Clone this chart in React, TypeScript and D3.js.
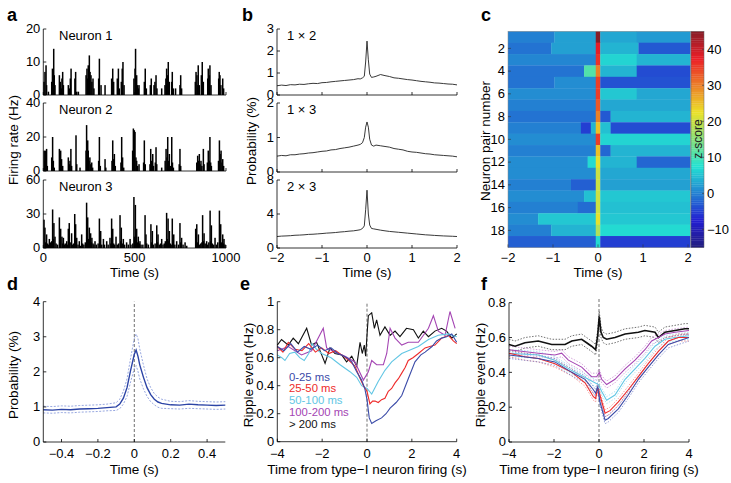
import React from 'react';
import * as d3 from 'd3';

const FONT = '"Liberation Sans", Arial, Helvetica, sans-serif';

// ---------- Panel a: firing rate (time s, rate Hz) ----------
const neuron1Bars: [number, number][] = [[4,4],[9,7],[15,9],[18,3],[28,1],[46,4],[50,8],[53,6],[57,14],[60,6],[64,3],[88,6],[93,4],[99,2],[102,5],[106,7],[110,3],[137,3],[142,2],[148,5],[152,8],[173,5],[177,7],[183,1],[192,1],[234,6],[239,8],[243,5],[246,9],[249,6],[252,12],[256,7],[261,6],[266,4],[272,5],[277,2],[303,5],[307,11],[316,3],[338,3],[374,5],[380,8],[385,4],[405,5],[411,8],[416,2],[427,4],[432,8],[436,10],[442,3],[496,5],[502,8],[505,14],[508,5],[511,6],[516,3],[520,2],[524,3],[553,4],[558,8],[564,2],[586,3],[591,5],[606,3],[611,4],[617,6],[622,2],[648,2],[666,3],[671,5],[675,8],[680,6],[684,10],[690,4],[703,4],[706,7],[712,2],[724,2],[748,3],[752,6],[757,2],[832,4],[836,7],[841,6],[845,3],[848,9],[854,3],[865,6],[870,10],[876,4],[900,5],[903,8],[909,6],[912,9],[918,3],[960,5],[963,7],[967,6],[972,3],[982,5],[987,2]];
const neuron2Bars: [number, number][] = [[5,12],[9,6],[13,12],[18,13],[22,3],[46,8],[51,20],[55,6],[60,2],[88,13],[92,5],[95,12],[100,7],[106,3],[137,8],[142,4],[146,6],[151,13],[155,3],[179,21],[183,4],[201,2],[234,12],[237,27],[243,18],[246,12],[250,6],[255,8],[260,4],[265,5],[270,2],[303,6],[307,20],[312,3],[338,7],[342,2],[376,6],[380,18],[385,7],[389,10],[394,3],[425,5],[429,20],[434,8],[440,2],[489,12],[493,25],[498,24],[502,23],[507,8],[511,6],[516,3],[524,4],[549,5],[553,18],[558,4],[584,4],[588,13],[593,6],[599,10],[603,3],[613,5],[617,14],[621,4],[648,2],[667,6],[672,13],[677,8],[681,20],[686,6],[690,10],[695,3],[703,20],[707,5],[712,2],[744,4],[748,13],[752,3],[840,5],[845,9],[850,6],[854,10],[858,4],[863,6],[868,3],[876,13],[880,4],[898,5],[903,12],[908,6],[912,20],[916,5],[920,3],[959,6],[964,18],[968,10],[973,12],[978,5],[982,7],[987,3]];
const neuron3Bars: [number, number][] = [[4,25],[9,18],[13,5],[18,12],[23,4],[28,3],[33,8],[40,5],[46,6],[51,34],[55,8],[58,22],[64,10],[70,4],[78,3],[88,27],[92,6],[95,17],[102,10],[106,4],[110,9],[115,3],[120,4],[128,6],[133,3],[137,17],[142,22],[147,5],[155,13],[160,3],[166,4],[172,30],[177,21],[183,9],[190,3],[197,6],[203,2],[210,12],[215,4],[222,3],[230,5],[237,40],[240,12],[243,27],[248,8],[252,18],[256,6],[259,13],[263,5],[266,9],[272,4],[277,3],[283,6],[290,3],[300,4],[307,26],[310,6],[314,15],[320,3],[329,8],[335,3],[347,6],[355,3],[365,9],[370,4],[374,26],[377,5],[380,17],[385,4],[390,3],[398,10],[405,3],[412,4],[420,29],[424,6],[427,18],[432,4],[438,8],[445,3],[456,5],[465,3],[475,8],[480,3],[490,4],[496,45],[500,10],[504,38],[508,6],[511,17],[516,5],[520,10],[525,4],[529,6],[535,3],[545,3],[557,29],[562,12],[566,4],[575,3],[589,21],[593,5],[597,15],[602,3],[612,4],[621,20],[625,5],[628,12],[635,3],[642,4],[648,8],[655,3],[662,4],[668,6],[675,31],[679,8],[683,26],[686,6],[690,15],[695,4],[700,3],[706,26],[710,5],[714,12],[720,3],[730,6],[740,3],[748,22],[752,5],[757,9],[765,3],[776,5],[785,2],[834,17],[837,6],[840,21],[845,5],[849,12],[855,3],[862,4],[868,5],[872,29],[876,6],[880,13],[886,4],[894,6],[900,3],[906,5],[913,33],[916,6],[920,20],[925,4],[932,3],[940,9],[948,3],[955,5],[964,33],[967,6],[971,21],[976,5],[982,12],[986,4],[989,8],[995,3]];
const neuronNames = ['Neuron 1', 'Neuron 2', 'Neuron 3'];
const neuronMax = [20, 40, 60];
const neuronTicks = [[0, 10, 20], [0, 20, 40], [0, 30, 60]];
const timeTicksA = [0, 500, 1000];

// ---------- Panel b: cross-correlograms ----------
const ccgTime = [-2,-1.9,-1.8,-1.7,-1.6,-1.5,-1.4,-1.3,-1.2,-1.1,-1.0,-0.9,-0.8,-0.7,-0.6,-0.5,-0.4,-0.3,-0.2,-0.15,-0.1,-0.06,-0.03,0,0.03,0.06,0.1,0.15,0.2,0.3,0.4,0.5,0.6,0.7,0.8,0.9,1.0,1.1,1.2,1.3,1.4,1.5,1.6,1.7,1.8,1.9,2.0];
const ccg12 = [0.42,0.45,0.43,0.47,0.46,0.49,0.48,0.51,0.53,0.52,0.56,0.57,0.6,0.62,0.64,0.66,0.68,0.7,0.74,0.73,0.78,0.85,1.5,2.45,1.6,0.95,0.8,0.82,0.85,0.93,0.88,0.84,0.78,0.76,0.73,0.7,0.68,0.65,0.62,0.6,0.58,0.55,0.54,0.52,0.5,0.49,0.46];
const ccg13 = [0.46,0.48,0.47,0.5,0.5,0.52,0.53,0.55,0.56,0.58,0.6,0.61,0.64,0.65,0.68,0.7,0.72,0.75,0.78,0.8,0.85,1.0,1.3,1.45,1.3,0.95,0.78,0.75,0.78,0.76,0.74,0.72,0.68,0.66,0.64,0.6,0.58,0.57,0.55,0.53,0.52,0.5,0.49,0.48,0.47,0.46,0.44];
const ccg23 = [1.35,1.4,1.42,1.45,1.5,1.52,1.55,1.6,1.62,1.66,1.7,1.75,1.78,1.82,1.88,1.92,1.98,2.02,2.1,2.15,2.3,2.6,4.5,6.8,4.0,2.7,2.3,2.25,2.2,2.1,2.02,1.95,1.9,1.85,1.8,1.75,1.7,1.65,1.6,1.55,1.52,1.48,1.45,1.42,1.4,1.38,1.35];
const ccgNames = ['1 \u00d7 2', '1 \u00d7 3', '2 \u00d7 3'];
const ccgMax = [3, 2, 8];
const ccgTicks = [[0, 1, 2, 3], [0, 1, 2], [0, 4, 8]];
const timeTicksB = [-2, -1, 0, 1, 2];

// ---------- Panel c: z-score heat map, rows of [t0, t1, z] ----------
const heatRows: [number, number, number][][] = [
  [[-2,-0.97,0],[-0.97,-0.05,2.5],[-0.05,0.05,45],[0.05,0.86,3],[0.86,2.05,2]],
  [[-2,-1.04,-1],[-1.04,-0.05,2.5],[-0.05,0.05,38],[0.05,0.9,4],[0.9,2.05,-3]],
  [[-2,-0.05,0.5],[-0.05,0.05,36],[0.05,0.86,6.5],[0.86,2.05,4]],
  [[-2,-0.31,-1],[-0.31,-0.05,11],[-0.05,0.05,30],[0.05,0.86,4],[0.86,2.05,-4]],
  [[-2,-0.97,-1],[-0.97,-0.05,1],[-0.05,0.05,35],[0.05,2.05,-3.5]],
  [[-2,-0.05,1],[-0.05,0.05,35],[0.05,0.86,5.5],[0.86,2.05,3]],
  [[-2,-0.05,0],[-0.05,0.05,33],[0.05,2.05,3]],
  [[-2,-0.05,-1],[-0.05,0.05,30],[0.05,0.28,-3],[0.28,2.05,4]],
  [[-2,-0.38,0],[-0.38,-0.16,-5],[-0.16,-0.05,4],[-0.05,0.05,25],[0.05,0.28,5],[0.28,2.05,-4]],
  [[-2,-0.05,1],[-0.05,0.05,35],[0.05,2.05,6.5]],
  [[-2,-0.05,0],[-0.05,0.05,25],[0.05,0.28,-2],[0.28,2.05,4]],
  [[-2,-0.23,1],[-0.23,-0.05,7],[-0.05,0.05,22],[0.05,0.86,4],[0.86,2.05,-2]],
  [[-2,-0.05,1],[-0.05,0.05,20],[0.05,2.05,3]],
  [[-2,-0.6,0],[-0.6,-0.05,-2.5],[-0.05,0.05,20],[0.05,2.05,2.5]],
  [[-2,-0.31,1],[-0.31,-0.05,5],[-0.05,0.05,20],[0.05,2.05,5.5]],
  [[-2,-0.45,0],[-0.45,-0.05,-1.5],[-0.05,0.05,20],[0.05,2.05,5]],
  [[-2,-1.33,1],[-1.33,-0.05,5.5],[-0.05,0.05,22],[0.05,2.05,5.5]],
  [[-2,-1.04,0],[-1.04,-0.05,4],[-0.05,0.05,18],[0.05,2.05,7]],
  [[-2,-0.05,-2.5],[-0.05,0.05,7],[0.05,2.05,-5]],
];
const rowTicks = [2, 4, 6, 8, 10, 12, 14, 16, 18];
const zDomain = [-15, 45];
const zTicks = [-10, 0, 10, 20, 30, 40];

// ---------- Panel d: population CCG ----------
const dTime = [-0.5,-0.45,-0.4,-0.35,-0.3,-0.25,-0.2,-0.15,-0.1,-0.08,-0.06,-0.04,-0.02,0,0.01,0.02,0.03,0.05,0.07,0.09,0.11,0.13,0.15,0.2,0.25,0.3,0.35,0.4,0.45,0.5];
const dMean = [0.92,0.91,0.93,0.92,0.94,0.95,0.96,0.98,1.0,1.08,1.25,1.55,2.05,2.5,2.62,2.45,2.2,1.85,1.55,1.35,1.22,1.14,1.1,1.06,1.05,1.08,1.06,1.05,1.04,1.05];
const dUpper = [1.02,1.01,1.03,1.02,1.04,1.05,1.06,1.08,1.12,1.22,1.45,1.8,2.4,2.95,3.08,2.95,2.65,2.2,1.8,1.55,1.38,1.28,1.22,1.16,1.15,1.18,1.16,1.15,1.14,1.15];
const dLower = [0.83,0.82,0.84,0.83,0.85,0.86,0.87,0.89,0.9,0.95,1.08,1.3,1.72,2.1,2.18,2.02,1.8,1.52,1.3,1.15,1.06,0.99,0.96,0.95,0.94,0.96,0.95,0.94,0.93,0.94];
const dTicksX = [-0.4, -0.2, 0, 0.2, 0.4];
const dTicksY = [0, 1, 2, 3, 4];

// ---------- Panel e: ripple rate by ISI group ----------
const eLegend = ['0-25 ms', '25-50 ms', '50-100 ms', '100-200 ms', '> 200 ms'];
const eColors = ['#3b4ba8', '#ee2a2a', '#62c6e4', '#a445b3', '#111111'];
const eBlueT = [-4,-3.7,-3.4,-3.1,-2.8,-2.5,-2.2,-1.9,-1.6,-1.3,-1.13,-0.9,-0.68,-0.46,-0.24,-0.1,0,0.1,0.21,0.4,0.65,0.85,1.03,1.3,1.55,1.84,2.14,2.4,2.59,2.9,3.1,3.33,3.55,3.78,4];
const eBlueV = [0.68,0.65,0.7,0.64,0.68,0.66,0.69,0.65,0.67,0.63,0.62,0.6,0.57,0.5,0.44,0.38,0.3,0.17,0.13,0.15,0.17,0.2,0.24,0.28,0.33,0.45,0.57,0.62,0.64,0.68,0.72,0.74,0.75,0.77,0.71];
const eRedT = [-4,-3.75,-3.51,-3.2,-2.9,-2.6,-2.3,-2.02,-1.7,-1.4,-1.13,-0.8,-0.54,-0.3,-0.16,0,0.13,0.25,0.36,0.5,0.65,0.8,0.95,1.1,1.25,1.4,1.55,1.7,1.84,2.05,2.29,2.59,2.8,3.03,3.33,3.63,3.85,4];
const eRedV = [0.68,0.64,0.71,0.66,0.65,0.7,0.64,0.67,0.63,0.65,0.62,0.58,0.54,0.45,0.4,0.36,0.27,0.29,0.29,0.28,0.3,0.31,0.36,0.38,0.42,0.45,0.49,0.53,0.58,0.6,0.63,0.67,0.68,0.69,0.74,0.76,0.72,0.7];
const eCyanT = [-4,-3.8,-3.66,-3.45,-3.22,-3.0,-2.8,-2.6,-2.45,-2.25,-2.02,-1.6,-1.2,-0.76,-0.46,-0.24,0,0.21,0.5,0.8,1.1,1.55,1.84,2.29,2.74,3.18,3.63,4];
const eCyanV = [0.62,0.6,0.58,0.63,0.64,0.6,0.58,0.63,0.7,0.66,0.63,0.6,0.55,0.5,0.46,0.4,0.38,0.34,0.43,0.51,0.57,0.63,0.65,0.68,0.73,0.76,0.77,0.75];
const ePurpleT = [-4,-3.51,-2.92,-2.47,-1.95,-1.8,-1.43,-0.98,-0.54,-0.16,0.06,0.21,0.43,0.73,0.88,1.03,1.25,1.55,1.84,2.29,2.74,2.96,3.18,3.48,3.7,3.93];
const ePurpleV = [0.65,0.68,0.62,0.65,0.81,0.67,0.64,0.61,0.57,0.44,0.5,0.58,0.55,0.55,0.63,0.81,0.74,0.69,0.71,0.71,0.81,0.9,0.79,0.76,0.93,0.81];
const eBlackT = [-4,-3.81,-3.51,-3.29,-3.06,-2.69,-2.47,-2.25,-2.02,-1.87,-1.65,-1.43,-1.13,-0.91,-0.68,-0.46,-0.31,-0.21,-0.12,-0.06,0,0.06,0.21,0.33,0.43,0.58,0.8,1.03,1.25,1.47,1.76,2.07,2.29,2.51,2.74,3.03,3.33,3.55,3.78,4];
const eBlackV = [0.69,0.73,0.69,0.74,0.70,0.81,0.69,0.71,0.62,0.56,0.67,0.63,0.62,0.57,0.61,0.54,0.71,0.63,0.69,0.61,0.76,0.9,0.92,0.81,0.87,0.76,0.82,0.76,0.79,0.75,0.81,0.8,0.74,0.79,0.75,0.79,0.81,0.79,0.74,0.77];
const eTicksX = [-4, -2, 0, 2, 4];
const eTicksY = [0, 0.2, 0.4, 0.6, 0.8, 1];

// ---------- Panel f: ripple rate, means with CI ----------
const fBlackT = [-4,-3.73,-3.29,-2.7,-2.1,-1.51,-1.21,-0.77,-0.55,-0.33,-0.15,-0.06,0.01,0.09,0.19,0.34,0.71,1.16,1.75,2.04,2.49,2.64,2.93,3.38,3.82,4];
const fBlackV = [0.56,0.55,0.57,0.58,0.56,0.56,0.58,0.59,0.57,0.55,0.53,0.61,0.72,0.63,0.6,0.59,0.6,0.62,0.63,0.64,0.63,0.6,0.63,0.64,0.65,0.65];
const fPurpleT = [-4,-2.7,-1.96,-1.66,-1.36,-0.77,-0.33,-0.1,0.01,0.12,0.34,0.71,1.16,1.6,2.04,2.34,2.64,2.93,3.38,4];
const fPurpleV = [0.53,0.51,0.5,0.51,0.47,0.43,0.375,0.375,0.4,0.36,0.33,0.36,0.42,0.47,0.53,0.58,0.6,0.62,0.63,0.64];
const fCyanT = [-4,-2.7,-1.96,-1.21,-0.62,-0.18,-0.03,0.12,0.34,0.71,1.16,1.6,2.04,2.49,2.93,3.38,4];
const fCyanV = [0.51,0.5,0.47,0.41,0.37,0.34,0.33,0.29,0.24,0.27,0.36,0.42,0.48,0.55,0.59,0.6,0.61];
const fRedT = [-4,-3.29,-2.7,-1.96,-1.21,-0.62,-0.25,-0.15,-0.06,0.04,0.27,0.49,0.86,1.3,1.75,2.19,2.64,3.08,3.53,4];
const fRedV = [0.51,0.49,0.48,0.45,0.4,0.34,0.26,0.25,0.31,0.27,0.165,0.18,0.23,0.3,0.375,0.45,0.52,0.58,0.6,0.6];
const fBlueT = [-4,-2.7,-1.96,-1.21,-0.62,-0.25,-0.15,-0.06,0.04,0.27,0.41,0.86,1.3,1.75,2.19,2.64,3.08,3.53,4];
const fBlueV = [0.5,0.48,0.46,0.4,0.36,0.3,0.28,0.32,0.23,0.125,0.135,0.19,0.27,0.36,0.43,0.5,0.56,0.58,0.6];
const fCIHalf = [0.02, 0.02, 0.02, 0.02, 0.03]; // blue, red, cyan, purple, black
const fTicksY = [0, 0.2, 0.4, 0.6, 0.8];

// ---------- helpers ----------
const fmt = (v: number) => (v < 0 ? '\u2212' : '') + String(Math.abs(+v.toFixed(2)));
const TICK_FS = 12;
const SX = 1.08;

function jet(v: number): string {
  const t = Math.max(0, Math.min(1, (v - zDomain[0]) / (zDomain[1] - zDomain[0])));
  const c = (x: number) => Math.max(0, Math.min(1, x));
  const r = c(1.5 - Math.abs(4 * t - 3));
  const g = c(1.5 - Math.abs(4 * t - 2));
  const b = c(1.5 - Math.abs(4 * t - 1));
  return `rgb(${Math.round(r * 200 + 35)},${Math.round(g * 195 + 30)},${Math.round(b * 170 + 40)})`;
}

type Lin = d3.ScaleLinear<number, number>;

function T({ x, y, anchor = 'start', fs = TICK_FS, dy, fill, children }: { x: number; y: number; anchor?: string; fs?: number; dy?: string; fill?: string; children: React.ReactNode }) {
  return (
    <text transform={`translate(${x},${y}) scale(${SX},1)`} dy={dy} textAnchor={anchor} fontSize={fs} fill={fill}>{children}</text>
  );
}

function YAxis({ scale, x, ticks, labels = true }: { scale: Lin; x: number; ticks: number[]; labels?: boolean }) {
  const [y0, y1] = scale.range();
  return (
    <g>
      <line x1={x} x2={x} y1={y0} y2={y1} stroke="#000" strokeWidth={0.8} />
      {ticks.map((t) => (
        <g key={t}>
          <line x1={x} x2={x + 3} y1={scale(t)} y2={scale(t)} stroke="#000" strokeWidth={0.8} />
          {labels && <T x={x - 3} y={scale(t)} dy="0.36em" anchor="end">{fmt(t)}</T>}
        </g>
      ))}
    </g>
  );
}

function XAxis({ scale, y, ticks, labelY }: { scale: Lin; y: number; ticks: number[]; labelY?: number }) {
  const [x0, x1] = scale.range();
  return (
    <g>
      <line x1={x0} x2={x1} y1={y} y2={y} stroke="#000" strokeWidth={0.8} />
      {ticks.map((t) => (
        <g key={t}>
          <line x1={scale(t)} x2={scale(t)} y1={y} y2={y - 3} stroke="#000" strokeWidth={0.8} />
          {labelY !== undefined && <T x={scale(t)} y={labelY} anchor="middle">{fmt(t)}</T>}
        </g>
      ))}
    </g>
  );
}

function YTitle({ x, y, text }: { x: number; y: number; text: string }) {
  return (
    <text transform={`translate(${x},${y}) rotate(-90)`} dy="0.36em" textAnchor="middle" fontSize={13.5}>{text}</text>
  );
}

function Letter({ x, y, t }: { x: number; y: number; t: string }) {
  return <text x={x} y={y} fontSize={18} fontWeight="bold">{t}</text>;
}

function linePath(xs: Lin, ys: Lin, t: number[], v: number[]) {
  return d3.line<number>().x((_, i) => xs(t[i])).y((d) => ys(d))(v) || '';
}

// ---------- panels ----------
const subY: [number, number][] = [[95, 29], [171, 103], [248, 180]];

function PanelA() {
  const x = d3.scaleLinear().domain([0, 1000]).range([43.3, 226]);
  const bars = [neuron1Bars, neuron2Bars, neuron3Bars];
  return (
    <g>
      <Letter x={7} y={21} t="a" />
      {bars.map((data, i) => {
        const y = d3.scaleLinear().domain([0, neuronMax[i]]).range(subY[i]);
        return (
          <g key={i}>
            {data.map(([t, h], j) => (
              <rect key={j} x={x(t) - 0.75} width={1.5} y={y(h)} height={y(0) - y(h)} fill="#000" />
            ))}
            <YAxis scale={y} x={43.3} ticks={neuronTicks[i]} />
            <XAxis scale={x} y={subY[i][0]} ticks={timeTicksA} labelY={i === 2 ? 261.5 : undefined} />
            <text x={59} y={subY[i][1] + 10.5} fontSize={13}>{neuronNames[i]}</text>
          </g>
        );
      })}
      <YTitle x={13} y={140} text="Firing rate (Hz)" />
      <text x={134.6} y={277} textAnchor="middle" fontSize={13.5}>Time (s)</text>
    </g>
  );
}

function PanelB() {
  const x = d3.scaleLinear().domain([-2, 2]).range([277, 457]);
  const series = [ccg12, ccg13, ccg23];
  const sy: [number, number][] = [[95, 29], [172, 103], [248, 180]];
  return (
    <g>
      <Letter x={242} y={21} t="b" />
      {series.map((v, i) => {
        const y = d3.scaleLinear().domain([0, ccgMax[i]]).range(sy[i]);
        return (
          <g key={i}>
            <path d={linePath(x, y, ccgTime, v)} fill="none" stroke="#222" strokeWidth={0.9} />
            <YAxis scale={y} x={277} ticks={ccgTicks[i]} />
            <XAxis scale={x} y={sy[i][0]} ticks={timeTicksB} labelY={i === 2 ? 261.5 : undefined} />
            <text x={287} y={sy[i][1] + 10.5} fontSize={13}>{ccgNames[i]}</text>
          </g>
        );
      })}
      <YTitle x={251} y={141} text="Probability (%)" />
      <text x={367} y={277} textAnchor="middle" fontSize={13.5}>Time (s)</text>
    </g>
  );
}

function PanelC() {
  const x = d3.scaleLinear().domain([-2, 2]).range([508, 688]);
  const rows = d3.scaleBand<number>().domain(d3.range(1, heatRows.length + 1)).range([31.3, 247.4]);
  const cz = d3.scaleLinear().domain(zDomain).range([247.4, 31.3]);
  const cbX0 = 691, cbX1 = 704;
  const cbSteps = d3.range(zDomain[0], zDomain[1], 0.5);
  return (
    <g>
      <Letter x={481} y={21} t="c" />
      {heatRows.map((segs, r) => (
        <g key={r}>
          {segs.map(([t0, t1, z], k) => (
            <rect key={k} x={x(t0)} width={x(t1) - x(t0) + 0.3} y={rows(r + 1)!} height={rows.bandwidth() + 0.3} fill={jet(z)} />
          ))}
        </g>
      ))}
      <rect x={508} y={31.3} width={x(2.05) - 508} height={247.4 - 31.3} fill="none" stroke="#888" strokeWidth={0.5} />
      {rowTicks.map((r) => (
        <g key={r}>
          <line x1={508} x2={511} y1={rows(r)! + rows.bandwidth() / 2} y2={rows(r)! + rows.bandwidth() / 2} stroke="#333" strokeWidth={0.6} />
          <T x={505} y={rows(r)! + rows.bandwidth() / 2} dy="0.36em" anchor="end">{r}</T>
        </g>
      ))}
      {timeTicksB.map((t) => (
        <g key={t}>
          <line x1={x(t)} x2={x(t)} y1={247.4} y2={244.4} stroke="#333" strokeWidth={0.6} />
          <T x={x(t)} y={261.5} anchor="middle">{fmt(t)}</T>
        </g>
      ))}
      {cbSteps.map((z) => (
        <rect key={z} x={cbX0} width={cbX1 - cbX0} y={cz(z + 0.5)} height={cz(z) - cz(z + 0.5) + 0.3} fill={jet(z + 0.25)} />
      ))}
      <rect x={cbX0} y={31.3} width={cbX1 - cbX0} height={247.4 - 31.3} fill="none" stroke="#666" strokeWidth={0.5} />
      {zTicks.map((z) => (
        <g key={z}>
          <line x1={cbX1} x2={cbX1 - 2} y1={cz(z)} y2={cz(z)} stroke="#333" strokeWidth={0.6} />
          <T x={707} y={cz(z)} dy="0.36em" anchor="start">{fmt(z)}</T>
        </g>
      ))}
      <text transform={`translate(698,139) rotate(-90)`} dy="0.36em" textAnchor="middle" fontSize={12} fill="#222">z-score</text>
      <YTitle x={485} y={141} text="Neuron pair number" />
      <text x={598} y={277} textAnchor="middle" fontSize={13.5}>Time (s)</text>
    </g>
  );
}

function PanelD() {
  const x = d3.scaleLinear().domain([-0.5, 0.5]).range([43.3, 225.3]);
  const y = d3.scaleLinear().domain([0, 4]).range([442, 301.7]);
  return (
    <g>
      <Letter x={7} y={290} t="d" />
      <line x1={x(0)} x2={x(0)} y1={y(0)} y2={y(4)} stroke="#333" strokeWidth={0.7} strokeDasharray="3,2" />
      <path d={linePath(x, y, dTime, dUpper)} fill="none" stroke="#7d92d8" strokeWidth={0.8} strokeDasharray="2,1.5" />
      <path d={linePath(x, y, dTime, dLower)} fill="none" stroke="#7d92d8" strokeWidth={0.8} strokeDasharray="2,1.5" />
      <path d={linePath(x, y, dTime, dMean)} fill="none" stroke="#2c44a6" strokeWidth={1.4} />
      <YAxis scale={y} x={43.3} ticks={dTicksY} />
      <XAxis scale={x} y={442} ticks={dTicksX} labelY={457.5} />
      <YTitle x={13} y={375} text="Probability (%)" />
      <text x={134.3} y={474} textAnchor="middle" fontSize={13.5}>Time (s)</text>
    </g>
  );
}

function PanelE() {
  const x = d3.scaleLinear().domain([-4, 4]).range([277.3, 456.7]);
  const y = d3.scaleLinear().domain([0, 1]).range([441.7, 301.7]);
  const ser: [number[], number[]][] = [[eBlueT, eBlueV], [eRedT, eRedV], [eCyanT, eCyanV], [ePurpleT, ePurpleV], [eBlackT, eBlackV]];
  const drawOrder = [4, 3, 2, 1, 0];
  return (
    <g>
      <Letter x={240} y={290} t="e" />
      <line x1={x(0)} x2={x(0)} y1={y(0)} y2={y(1)} stroke="#333" strokeWidth={0.7} strokeDasharray="3,2" />
      {drawOrder.map((i) => (
        <path key={i} d={linePath(x, y, ser[i][0], ser[i][1])} fill="none" stroke={eColors[i]} strokeWidth={1.1} />
      ))}
      {eLegend.map((s, i) => (
        <T key={s} x={289} y={380.5 + i * 11.8} fs={10.5} fill={eColors[i]}>{s}</T>
      ))}
      <YAxis scale={y} x={277.3} ticks={eTicksY} />
      <XAxis scale={x} y={441.7} ticks={eTicksX} labelY={457.5} />
      <YTitle x={248} y={375} text="Ripple event (Hz)" />
      <text x={367} y={474} textAnchor="middle" fontSize={13.5}>Time from type{'\u2212'}I neuron firing (s)</text>
    </g>
  );
}

function PanelF() {
  const x = d3.scaleLinear().domain([-4, 4]).range([509, 689]);
  const y = d3.scaleLinear().domain([0, 0.8]).range([442, 302.7]);
  const ser: [number[], number[]][] = [[fBlueT, fBlueV], [fRedT, fRedV], [fCyanT, fCyanV], [fPurpleT, fPurpleV], [fBlackT, fBlackV]];
  const ciColors = ['#6a78c8', '#f07070', '#90d8ee', '#c27ccc', '#333333'];
  const drawOrder = [4, 3, 2, 1, 0];
  return (
    <g>
      <Letter x={481} y={290} t="f" />
      <line x1={x(0)} x2={x(0)} y1={y(0)} y2={y(0.8) - 4} stroke="#333" strokeWidth={0.7} strokeDasharray="3,2" />
      {drawOrder.map((i) => (
        <g key={i}>
          <path d={linePath(x, y, ser[i][0], ser[i][1].map((v) => v + fCIHalf[i]))} fill="none" stroke={ciColors[i]} strokeWidth={0.7} strokeDasharray="1.5,1.5" />
          <path d={linePath(x, y, ser[i][0], ser[i][1].map((v) => v - fCIHalf[i]))} fill="none" stroke={ciColors[i]} strokeWidth={0.7} strokeDasharray="1.5,1.5" />
        </g>
      ))}
      {drawOrder.map((i) => (
        <path key={i} d={linePath(x, y, ser[i][0], ser[i][1])} fill="none" stroke={eColors[i]} strokeWidth={i === 4 ? 1.6 : 1.1} />
      ))}
      <YAxis scale={y} x={509} ticks={fTicksY} />
      <XAxis scale={x} y={442} ticks={eTicksX} labelY={457.5} />
      <YTitle x={480} y={375} text="Ripple event (Hz)" />
      <text x={599} y={474} textAnchor="middle" fontSize={13.5}>Time from type{'\u2212'}I neuron firing (s)</text>
    </g>
  );
}

export default function App() {
  return (
    <svg width={731} height={483} style={{ position: 'absolute', left: 0, top: 0, background: '#fff' }} fontFamily={FONT}>
      <rect width={731} height={483} fill="#fff" />
      <PanelA />
      <PanelB />
      <PanelC />
      <PanelD />
      <PanelE />
      <PanelF />
    </svg>
  );
}
